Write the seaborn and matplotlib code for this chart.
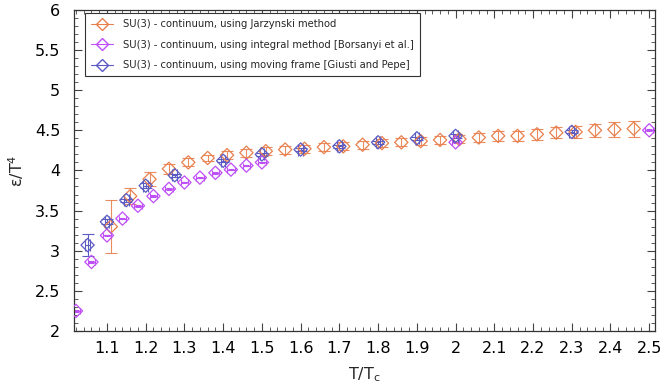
import numpy as np
import pandas as pd
import matplotlib
matplotlib.use("Agg")
import matplotlib.pyplot as plt
from matplotlib.lines import Line2D
from matplotlib.ticker import MultipleLocator, FuncFormatter
import seaborn as sns

# ---- data ----
jar_x = [1.11, 1.16, 1.21, 1.26, 1.31, 1.36, 1.41, 1.46, 1.51, 1.56, 1.61, 1.66, 1.71, 1.76,
         1.81, 1.86, 1.91, 1.96, 2.01, 2.06, 2.11, 2.16, 2.21, 2.26, 2.31, 2.36, 2.41, 2.46]
jar_y = [3.30, 3.68, 3.89, 4.02, 4.10, 4.155, 4.19, 4.22, 4.24, 4.26, 4.27, 4.29, 4.30, 4.32,
         4.34, 4.35, 4.365, 4.38, 4.39, 4.41, 4.43, 4.43, 4.45, 4.47, 4.48, 4.50, 4.51, 4.52]
jar_err = [0.33, 0.10, 0.09, 0.06, 0.05, 0.04, 0.05, 0.05, 0.05, 0.05, 0.05, 0.05, 0.05, 0.05,
           0.05, 0.05, 0.05, 0.05, 0.05, 0.06, 0.06, 0.06, 0.07, 0.07, 0.07, 0.08, 0.09, 0.10]

bor_x = [1.02, 1.06, 1.10, 1.14, 1.18, 1.22, 1.26, 1.30, 1.34, 1.38, 1.42, 1.46, 1.50, 2.00, 2.50]
bor_y = [2.25, 2.86, 3.19, 3.40, 3.56, 3.68, 3.77, 3.85, 3.91, 3.97, 4.01, 4.06, 4.10, 4.35, 4.50]
bor_xerr = [0.01] * 15
bor_yerr = [0.01] * 15

gp_x = [1.05, 1.10, 1.15, 1.20, 1.275, 1.40, 1.50, 1.60, 1.70, 1.80, 1.90, 2.00, 2.30]
gp_y = [3.07, 3.36, 3.63, 3.81, 3.94, 4.12, 4.20, 4.26, 4.30, 4.35, 4.40, 4.43, 4.48]
gp_yerr = [0.14, 0.03, 0.02, 0.03, 0.02, 0.02, 0.02, 0.02, 0.02, 0.02, 0.02, 0.02, 0.02]
gp_xerr = [0.006] * 13

labels = ["SU(3) - continuum, using Jarzynski method",
          "SU(3) - continuum, using integral method [Borsanyi et al.]",
          "SU(3) - continuum, using moving frame [Giusti and Pepe]"]
colors = ["#e8804e", "#bf4ff7", "#5b5bc4"]

sns.set_theme(style="white")
plt.rcParams['font.family'] = ['DejaVu Sans']

fig = plt.figure(figsize=(6.64, 3.86), dpi=100)
ax = fig.add_axes([0.1115, 0.1425, 0.875, 0.832])

ms = 7.8
# Jarzynski
ax.errorbar(jar_x, jar_y, yerr=jar_err, fmt='none', ecolor=colors[0], elinewidth=0.8,
            capsize=4, capthick=0.8, alpha=0.9, zorder=2)
sns.scatterplot(x=jar_x, y=jar_y, ax=ax, marker='D', s=ms**2 * 0.75, facecolors='none',
                edgecolor=colors[0], linewidth=0.9, zorder=3)
# Borsanyi
ax.errorbar(bor_x, bor_y, xerr=bor_xerr, yerr=bor_yerr, fmt='none', ecolor=colors[1],
            elinewidth=0.8, capsize=2, capthick=0.8, zorder=2)
sns.scatterplot(x=bor_x, y=bor_y, ax=ax, marker='D', s=ms**2 * 0.75, facecolors='none',
                edgecolor=colors[1], linewidth=0.9, zorder=3)
# Giusti & Pepe
ax.errorbar(gp_x, gp_y, xerr=gp_xerr, yerr=gp_yerr, fmt='none', ecolor=colors[2],
            elinewidth=0.8, capsize=4, capthick=0.8, zorder=2)
sns.scatterplot(x=gp_x, y=gp_y, ax=ax, marker='D', s=ms**2 * 0.75, facecolors='none',
                edgecolor=colors[2], linewidth=0.9, zorder=3)

ax.set_xlim(1.015, 2.515)
ax.set_ylim(2, 6)

ax.xaxis.set_major_locator(MultipleLocator(0.1))
ax.xaxis.set_minor_locator(MultipleLocator(0.02))
ax.yaxis.set_major_locator(MultipleLocator(0.5))
ax.yaxis.set_minor_locator(MultipleLocator(0.1))
ax.xaxis.set_major_formatter(FuncFormatter(lambda v, p: f"{v:g}"))
ax.yaxis.set_major_formatter(FuncFormatter(lambda v, p: f"{v:g}"))

ax.tick_params(axis='both', which='both', direction='in', top=True, right=True,
               bottom=True, left=True, colors='#444444', labelcolor='black', labelsize=11.5)
ax.tick_params(which='major', length=6, width=0.8)
ax.tick_params(axis='x', which='major', pad=7)
ax.tick_params(axis='y', which='major', pad=10)
ax.tick_params(which='minor', length=3, width=0.6)
for s in ax.spines.values():
    s.set_visible(True)
    s.set_color('#333333')
    s.set_linewidth(0.9)

ax.set_xlabel("T/T$_\\mathrm{c}$", fontsize=11.5, va='center')
ax.set_ylabel("ε/T$^4$", fontsize=11.5, va='center')
ax.xaxis.set_label_coords(0.5, -0.137)
ax.yaxis.set_label_coords(-0.1, 0.5)

handles = [Line2D([], [], color=c, marker='D', markersize=6, markerfacecolor='none',
                  markeredgecolor=c, linewidth=0.8) for c in colors]
leg = ax.legend(handles, labels, loc='upper left', bbox_to_anchor=(0.019, 0.99),
                fontsize=7.2, frameon=True, fancybox=False, framealpha=1,
                edgecolor='#333333', handlelength=2.2, borderpad=0.6,
                labelspacing=1.05, handletextpad=1.0, borderaxespad=0.0)
leg.get_frame().set_linewidth(0.8)

fig.savefig("out.png", dpi=100)
